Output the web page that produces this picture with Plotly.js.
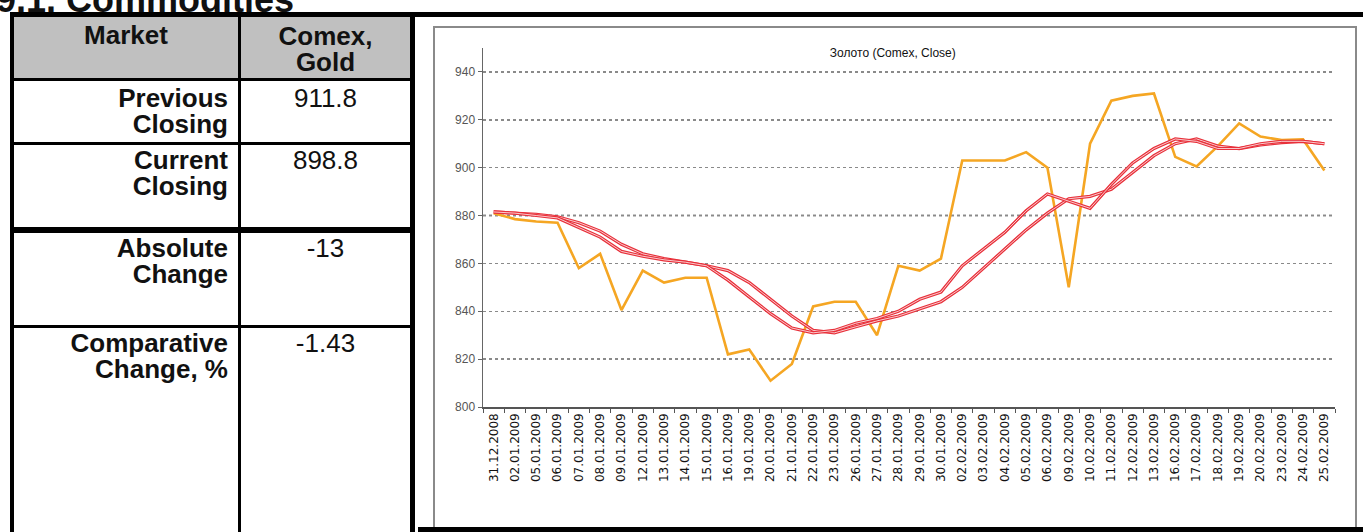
<!DOCTYPE html>
<html>
<head>
<meta charset="utf-8">
<script src="https://cdn.plot.ly/plotly-3.0.1.min.js"></script>
<style>
  html, body { margin:0; padding:0; }
  body { width:1363px; height:532px; overflow:hidden; background:#fff; position:relative;
         font-family:'Liberation Sans', Arial, sans-serif; color:#111; }
  .abs { position:absolute; }
  .bk { position:absolute; background:#000; }
  .lbl { position:absolute; font-size:26px; line-height:26px; font-weight:bold; text-align:right; white-space:pre-line; }
  .val { position:absolute; font-size:26px; line-height:26px; text-align:center; white-space:pre-line; }
</style>
</head>
<body>
<div class="abs" style="left:-4px; top:-17px; font-size:36px; line-height:34px; font-weight:bold; white-space:nowrap;">9.1. Commodities</div>

<!-- left table -->
<div class="abs" style="left:14px; top:17px; width:396px; height:62px; background:#c0c0c0;"></div>
<div class="bk" style="left:12px; top:12px; width:1351px; height:5px;"></div>
<div class="bk" style="left:10px; top:12px; width:4px; height:520px;"></div>
<div class="bk" style="left:238px; top:12px; width:3px; height:520px;"></div>
<div class="bk" style="left:410px; top:12px; width:5px; height:520px;"></div>
<div class="bk" style="left:10px; top:78px; width:405px; height:3px;"></div>
<div class="bk" style="left:10px; top:142px; width:405px; height:3px;"></div>
<div class="bk" style="left:10px; top:227px; width:405px; height:6px;"></div>
<div class="bk" style="left:10px; top:325px; width:405px; height:3px;"></div>
<div id="tbl"></div>

<!-- chart frame -->
<div class="abs" style="left:433px; top:26px; width:920px; height:500px; border:2px solid #8a8a8a;"></div>
<div id="chart" class="abs" style="left:435px; top:28px; width:920px; height:500px;"></div>
<div class="bk" style="left:418px; top:527px; width:945px; height:5px;"></div>

<script>
// ---- table data ----
const headerLabels = ["Market", "Comex,\nGold"];
const rowLabels = ["Previous\nClosing", "Current\nClosing", "Absolute\nChange", "Comparative\nChange, %"];
const rowValues = ["911.8", "898.8", "-13", "-1.43"];

// ---- chart data ----
const dates = ["31.12.2008","02.01.2009","05.01.2009","06.01.2009","07.01.2009","08.01.2009","09.01.2009",
  "12.01.2009","13.01.2009","14.01.2009","15.01.2009","16.01.2009","19.01.2009","20.01.2009","21.01.2009",
  "22.01.2009","23.01.2009","26.01.2009","27.01.2009","28.01.2009","29.01.2009","30.01.2009","02.02.2009",
  "03.02.2009","04.02.2009","05.02.2009","06.02.2009","09.02.2009","10.02.2009","11.02.2009","12.02.2009",
  "13.02.2009","16.02.2009","17.02.2009","18.02.2009","19.02.2009","20.02.2009","23.02.2009","24.02.2009","25.02.2009"];
const goldClose = [881, 878.5, 877.5, 877, 858, 864, 840.5, 857, 852, 854,
  854, 822, 824, 811, 818, 842, 844, 844, 830, 859,
  857, 862, 903, 903, 903, 906.5, 900, 850, 910, 928,
  930, 931, 904.5, 900.5, 909, 918.5, 913, 911.5, 911.8, 898.8];
const maFast = [881.5, 881, 880, 879, 875, 871, 865, 863, 861.5, 860.5,
  859, 853, 846, 839, 833, 831, 832, 835, 837, 840,
  845, 848, 859, 866, 873, 882, 889, 886, 883, 893,
  902, 908, 912, 911, 908, 908, 910, 911, 911, 910];
const maSlow = [881.5, 881, 880.5, 879.5, 877, 873.5, 868, 864, 862, 860.5,
  859, 857, 852, 845, 838, 832, 831, 833.5, 836, 838,
  841, 844, 850, 858, 866, 874, 881, 887, 888, 891,
  898, 905, 910, 912, 909, 908, 909.5, 910.5, 911, 910];
const chartTitle = "Золото (Comex, Close)";
const refLevel = 880;

// ---- build table ----
const tbl = document.getElementById('tbl');
function addText(cls, txt, left, top, width) {
  const d = document.createElement('div');
  d.className = cls; d.textContent = txt;
  d.style.left = left + 'px'; d.style.top = top + 'px'; d.style.width = width + 'px';
  tbl.appendChild(d);
  return d;
}
const h0 = addText('val', headerLabels[0], 14, 22, 224); h0.style.fontWeight = 'bold';
const h1 = addText('val', headerLabels[1], 241, 23, 169); h1.style.fontWeight = 'bold';
const rowTops = [85, 147, 235, 330];
rowLabels.forEach((t, i) => {
  addText('lbl', t, 14, rowTops[i], 214);
  addText('val', rowValues[i], 241, rowTops[i], 169);
});

// ---- chart ----
const red = '#e8303a';
const traces = [
  { x: dates, y: goldClose, type: 'scatter', mode: 'lines', line: { color: '#f5a623', width: 2.6 }, hoverinfo: 'skip' },
  { x: dates, y: maSlow, type: 'scatter', mode: 'lines', line: { color: red, width: 3.2 }, hoverinfo: 'skip' },
  { x: dates, y: maSlow, type: 'scatter', mode: 'lines', line: { color: 'rgba(255,255,255,0.75)', width: 1 }, hoverinfo: 'skip' },
  { x: dates, y: maFast, type: 'scatter', mode: 'lines', line: { color: red, width: 3.2 }, hoverinfo: 'skip' },
  { x: dates, y: maFast, type: 'scatter', mode: 'lines', line: { color: 'rgba(255,255,255,0.75)', width: 1 }, hoverinfo: 'skip' }
];
const layout = {
  width: 920, height: 500,
  margin: { l: 48, r: 20, t: 20, b: 121 },
  paper_bgcolor: '#fff', plot_bgcolor: '#fff',
  showlegend: false,
  font: { family: "'Liberation Sans', Arial, sans-serif", color: '#222' },
  title: { text: chartTitle, font: { size: 12, color: '#111' }, xref: 'paper', x: 0.481, xanchor: 'center', y: 0.95, yanchor: 'middle' },
  xaxis: {
    type: 'category', tickson: 'boundaries', ticks: 'outside', ticklen: 4, tickcolor: '#555',
    showline: true, linecolor: '#555', linewidth: 1.5, showgrid: false, zeroline: false,
    tickangle: -90, tickfont: { family: "'DejaVu Sans', sans-serif", size: 12, color: '#111' },
    range: [-0.5, dates.length - 0.5], fixedrange: true
  },
  yaxis: {
    range: [800, 950], tick0: 800, dtick: 20, ticks: 'outside', ticklen: 4, tickcolor: '#666',
    showline: true, linecolor: '#666', linewidth: 1.5, zeroline: false,
    showgrid: true, gridcolor: '#8a8a8a', griddash: 'dot', gridwidth: 1.5,
    tickfont: { size: 12, color: '#555' }, fixedrange: true
  },
  shapes: [{ type: 'line', xref: 'paper', x0: 0, x1: 1, yref: 'y', y0: refLevel, y1: refLevel,
             line: { color: '#222', width: 1.6, dash: 'dot' }, layer: 'below' }]
};
Plotly.newPlot('chart', traces, layout, { staticPlot: true, displayModeBar: false });
</script>
</body>
</html>
